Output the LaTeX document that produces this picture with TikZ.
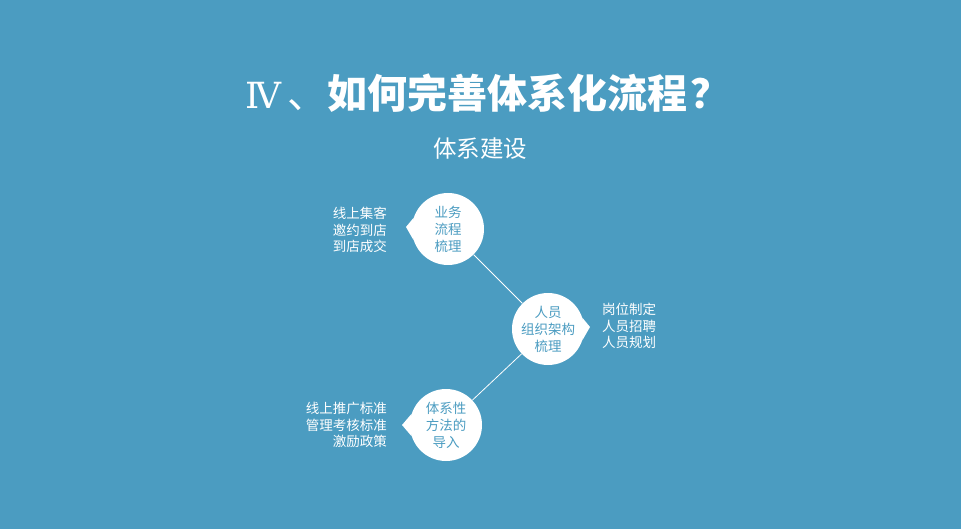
\documentclass[tikz,border=0pt]{standalone}
\usepackage{fontspec}
\setmainfont{Noto Sans CJK SC}
\newfontfamily\numfont{DejaVu Serif}
\definecolor{bg}{HTML}{4B9CC1}
\begin{document}
\begin{tikzpicture}[x=1pt, y=-1pt,
  bubble/.style={circle, fill=white, minimum size=72pt, inner sep=0pt,
    align=center, text=bg, font=\fontsize{13.5}{17}\selectfont},
  note/.style={text=white, inner sep=0pt, font=\fontsize{13.5}{16.5}\selectfont},
  link/.style={white, line width=0.8pt}]
  \fill [bg] (0,0) rectangle (961,529);

  \node [text=white, font=\fontsize{40}{42}\selectfont] (title) at (488,93)
    {{\numfont\fontsize{36}{42}\selectfont Ⅳ}\hspace{6pt}、\textbf{如何完善体系化流程\hspace{3pt}？}};
  \node [text=white, font=\fontsize{23.5}{26}\selectfont] (sub) at (480,149) {体系建设};

  \node [bubble] (flow)  at (448,229) {业务\\流程\\梳理};
  \node [bubble] (staff) at (548,329) {人员\\组织架构\\梳理};
  \node [bubble] (method) at (446,425) {体系性\\方法的\\导入};

  \coordinate (flowtip)   at (406,227);
  \coordinate (stafftip)  at (590,327);
  \coordinate (methodtip) at (402,425);

  \fill [white] (flow.162) -- (flowtip) -- (flow.198) -- cycle;
  \fill [white] (staff.18) -- (stafftip) -- (staff.-18) -- cycle;
  \fill [white] (method.162) -- (methodtip) -- (method.198) -- cycle;

  \draw [link] (flow) -- (staff);
  \draw [link] (staff) -- (method);

  \node [note, align=right, anchor=east] (flowtxt) at (387,230)
    {线上集客\\邀约到店\\到店成交};
  \node [note, align=left, anchor=west] (stafftxt) at (602,326)
    {岗位制定\\人员招聘\\人员规划};
  \node [note, align=right, anchor=east] (methodtxt) at (387,425)
    {线上推广标准\\管理考核标准\\激励政策};
\end{tikzpicture}
\end{document}
